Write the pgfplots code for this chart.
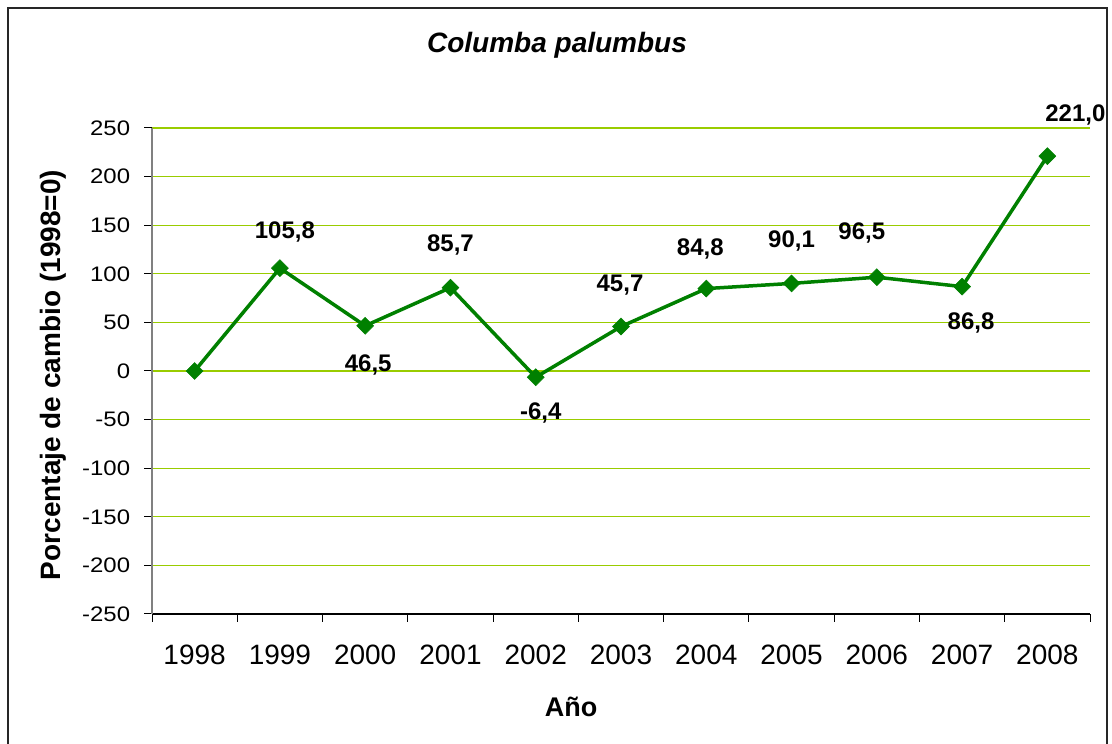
\documentclass[border=0pt]{standalone}
\usepackage{pgfplots}
\pgfplotsset{compat=1.18}
\usepackage{pgfplotstable}
\usepackage{fontspec}
\setmainfont{Liberation Sans}

\definecolor{gridgreen}{HTML}{99CC00}
\definecolor{linegreen}{HTML}{008000}

% porcentaje de cambio respecto a 1998
\pgfplotstableread{
x y
0 0
1 105.8
2 46.5
3 85.7
4 -6.4
5 45.7
6 84.8
7 90.1
8 96.5
9 86.8
10 221.0
}\serie

% etiquetas: posicion y desplazamiento (pt)
\pgfplotstableread{
x y lab dx dy
1 105.8 105,8 5 36
2 46.5 46,5 3 -39
3 85.7 85,7 0 43
4 -6.4 -6,4 5 -36
5 45.7 45,7 -1 41
6 84.8 84,8 -6 40
7 90.1 90,1 0 42
8 96.5 96,5 -15 44
9 86.8 86,8 9 -36
10 221.0 221,0 28 41
}\etiquetas

\begin{document}
\begin{tikzpicture}
\begin{axis}[
    at={(152pt,130pt)}, anchor=south west,
    scale only axis,
    width=938pt, height=486pt,
    xmin=-0.5, xmax=10.5,
    ymin=-250, ymax=250,
    clip=false,
    axis x line*=bottom,
    axis y line*=left,
    x axis line style={black, line width=1.2pt},
    y axis line style={gray, line width=1.6pt},
    tick align=outside,
    major tick length=8pt,
    tick style={black, line width=1pt},
    xtick={-0.5,0.5,...,10.5},
    x tick label as interval,
    xticklabels={1998,1999,2000,2001,2002,2003,2004,2005,2006,2007,2008},
    xticklabel style={font=\fontsize{28}{28}\selectfont, anchor=center, yshift=-33pt},
    ytick={-250,-200,...,250},
    yticklabels={-250,-200,-150,-100,-50,0,50,100,150,200,250},
    yticklabel style={font=\fontsize{21}{21}\selectfont, xscale=1.14, anchor=east, inner sep=0pt, xshift=-12pt},
    ymajorgrids,
    major grid style={gridgreen, line width=1.3pt},
]
\addplot[linegreen, line width=3.5pt, mark=square*,
    mark size=6pt, mark options={rotate=45, fill=linegreen, draw=linegreen, line width=0.5pt}]
    table[x=x, y=y] {\serie};

\addplot[draw=none, mark=none,
    nodes near coords, point meta=explicit symbolic,
    nodes near coords align=center,
    visualization depends on={\thisrow{dx} \as \dx},
    visualization depends on={\thisrow{dy} \as \dy},
    every node near coord/.append style={anchor=center, xshift=\dx pt, yshift=\dy pt,
        font=\fontsize{24}{24}\selectfont\bfseries, text=black}]
    table[x=x, y=y, meta=lab] {\etiquetas};
\end{axis}

\node[font=\fontsize{28}{28}\selectfont\bfseries\itshape] at (557pt,699pt) {Columba palumbus};
\node[rotate=90, font=\fontsize{28}{28}\selectfont\bfseries] at (53pt,369pt) {Porcentaje de cambio (1998=0)};
\node[font=\fontsize{27}{27}\selectfont\bfseries] at (571pt,37pt) {Año};

\draw[black!85, line width=1.5pt] (8pt,-5pt) -- (8pt,736pt) -- (1107pt,736pt) -- (1107pt,-5pt);

\pgfresetboundingbox
\useasboundingbox (0,0) rectangle (1112pt,744pt);
\end{tikzpicture}
\end{document}
